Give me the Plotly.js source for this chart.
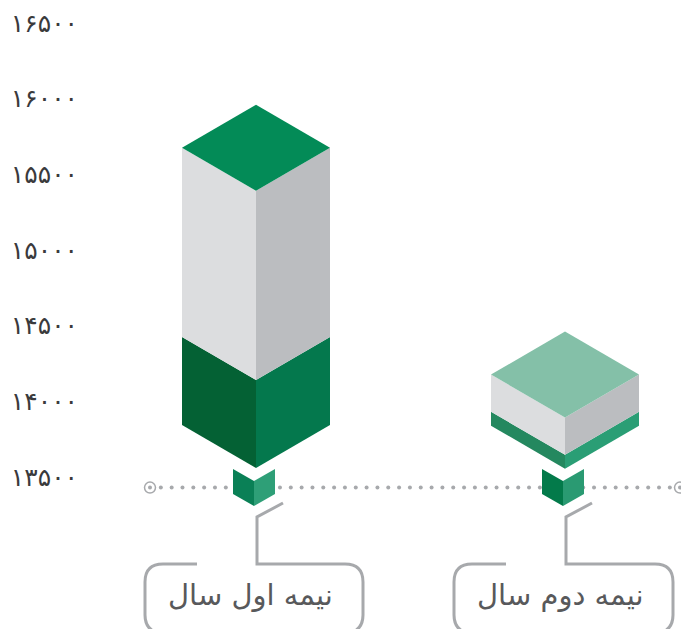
<!DOCTYPE html>
<html><head><meta charset="utf-8">
<script src="https://cdn.plot.ly/plotly-3.0.1.min.js"></script>
<style>html,body{margin:0;padding:0;background:#fff;overflow:hidden}</style>
</head><body><div id="chart" style="width:681px;height:629px"></div>
<script>
// ---- data ----
const categories = ["نیمه اول سال", "نیمه دوم سال"];
const topLevel    = [15675, 14177];   // top of the grey block
const midLevel    = [14425, 13931];   // grey / green boundary
const bottomLevel = [13844, 13839];   // bottom of the green block
const cubeTop     = [13553, 13553];   // small cube, top
const cubeBottom  = [13388, 13388];   // small cube, bottom
const baseline    = 13430;            // dotted line
const tickValues  = [13500, 14000, 14500, 15000, 15500, 16000, 16500];
const tickLabels  = ["۱۳۵۰۰", "۱۴۰۰۰", "۱۴۵۰۰", "۱۵۰۰۰", "۱۵۵۰۰", "۱۶۰۰۰", "۱۶۵۰۰"];

// ---- styles ----
const topColors   = ["#038b57", "#84c0a8"];
const greenLeft   = ["#046134", "#24885f"];
const greenRight  = ["#04784d", "#2a9e75"];
const cubeLeft    = ["#0a8056", "#037a4a"];
const cubeRight   = ["#2e9f77", "#2a9a72"];
const greyLeft = "#dcdddf", greyRight = "#bbbdc0", lineGrey = "#a7a9ac";

// ---- scales (px per unit) ----
const pxPerCat = 309, pxPerVal = 75.67 / 500;
const L = 79;
const xRange = [(L - 256) / pxPerCat, (681 - 256) / pxPerCat];
const yRange = [13500 - (629 - 477) / pxPerVal, 13500 + 477 / pxPerVal];
const dx = px => px / pxPerCat, dy = px => px / pxPerVal;
const HW = dx(74), HH = dy(43);
const CW = dx(21), CH = dy(12);
const cubeShift = dx(-2);

const traces = [];
function poly(xs, ys, color) {
  traces.push({type:"scatter", mode:"lines", x:[...xs, xs[0]], y:[...ys, ys[0]],
    fill:"toself", fillcolor:color, line:{width:0, color:color}, hoverinfo:"skip", showlegend:false});
}
// Dotted baseline
const dotX = [];
for (let k = 1; k <= 48; k++) dotX.push(dx(150 + 10.83 * k - 256));
traces.push({type:"scatter", mode:"markers", x:dotX, y:dotX.map(() => baseline),
  marker:{size:4, color:lineGrey}, hoverinfo:"skip", showlegend:false});
const endX = [dx(150 - 256), dx(680 - 256)];
traces.push({type:"scatter", mode:"markers", x:endX, y:[baseline, baseline],
  marker:{size:11, symbol:"circle-open", color:lineGrey, line:{width:1.5, color:lineGrey}}, hoverinfo:"skip", showlegend:false});
traces.push({type:"scatter", mode:"markers", x:endX, y:[baseline, baseline],
  marker:{size:4, color:lineGrey}, hoverinfo:"skip", showlegend:false});

categories.forEach((c, i) => {
  const t = topLevel[i], m = midLevel[i], b = bottomLevel[i];
  // green block
  poly([i-HW, i, i, i-HW], [m, m-HH, b-HH, b], greenLeft[i]);
  poly([i, i+HW, i+HW, i], [m-HH, m, b, b-HH], greenRight[i]);
  // grey block
  poly([i-HW, i, i, i-HW], [t, t-HH, m-HH, m], greyLeft);
  poly([i, i+HW, i+HW, i], [t-HH, t, m, m-HH], greyRight);
  // top face
  poly([i-HW, i, i+HW, i], [t, t+HH, t, t-HH], topColors[i]);
  // small cube
  const cx = i + cubeShift, ct = cubeTop[i], cb = cubeBottom[i];
  poly([cx-CW, cx, cx, cx-CW], [ct, ct-CH, cb-CH, cb], cubeLeft[i]);
  poly([cx, cx+CW, cx+CW, cx], [ct-CH, ct, cb, cb-CH], cubeRight[i]);
});

// Callouts: px offsets relative to (category centre, tick 13500 row)
const shapes = [];
const boxLeft = [-111, -111], boxRight = [107, 108], gapX = [-59, -59];
categories.forEach((c, i) => {
  const X = p => i + dx(p);
  const Y = p => 13500 - dy(p - 477);
  const lft = boxLeft[i], rgt = boxRight[i], r = 18;
  const stem = 1;
  const pts = [
    "M", X(gapX[i]), Y(564),
    "L", X(lft + r), Y(564),
    "Q", X(lft), Y(564), X(lft), Y(564 + r),
    "L", X(lft), Y(615),
    "Q", X(lft), Y(632), X(lft + r), Y(634),
    "M", X(rgt - r), Y(634),
    "Q", X(rgt), Y(632), X(rgt), Y(615),
    "L", X(rgt), Y(564 + r),
    "Q", X(rgt), Y(564), X(rgt - r), Y(564),
    "L", X(stem), Y(564),
    "L", X(stem), Y(517),
    "L", X(stem + 26), Y(503)
  ];
  shapes.push({type:"path", xref:"x", yref:"y", layer:"below", path:pts.join(" "),
    line:{color:lineGrey, width:3}, fillcolor:"rgba(0,0,0,0)"});
});

const layout = {
  width:681, height:629, paper_bgcolor:"#fff", plot_bgcolor:"#fff", showlegend:false,
  margin:{l:L, r:0, t:0, b:0, pad:0},
  xaxis:{range:xRange, visible:false, fixedrange:true},
  yaxis:{range:yRange, tickmode:"array", tickvals:tickValues, ticktext:tickLabels,
    showgrid:false, zeroline:false, showline:false, ticks:"", fixedrange:true,
    tickfont:{family:"DejaVu Sans", size:25, color:"#3a3a3c"}},
  shapes:shapes,
  annotations:categories.map((c, i) => ({
    x:i, y:13500 - dy(595 - 477), xref:"x", yref:"y", text:c, showarrow:false,
    xshift:i === 0 ? -6 : -5, font:{family:"DejaVu Sans", size:29, color:"#58595b"}
  }))
};
Plotly.newPlot("chart", traces, layout, {displayModeBar:false, staticPlot:true});
</script></body></html>
